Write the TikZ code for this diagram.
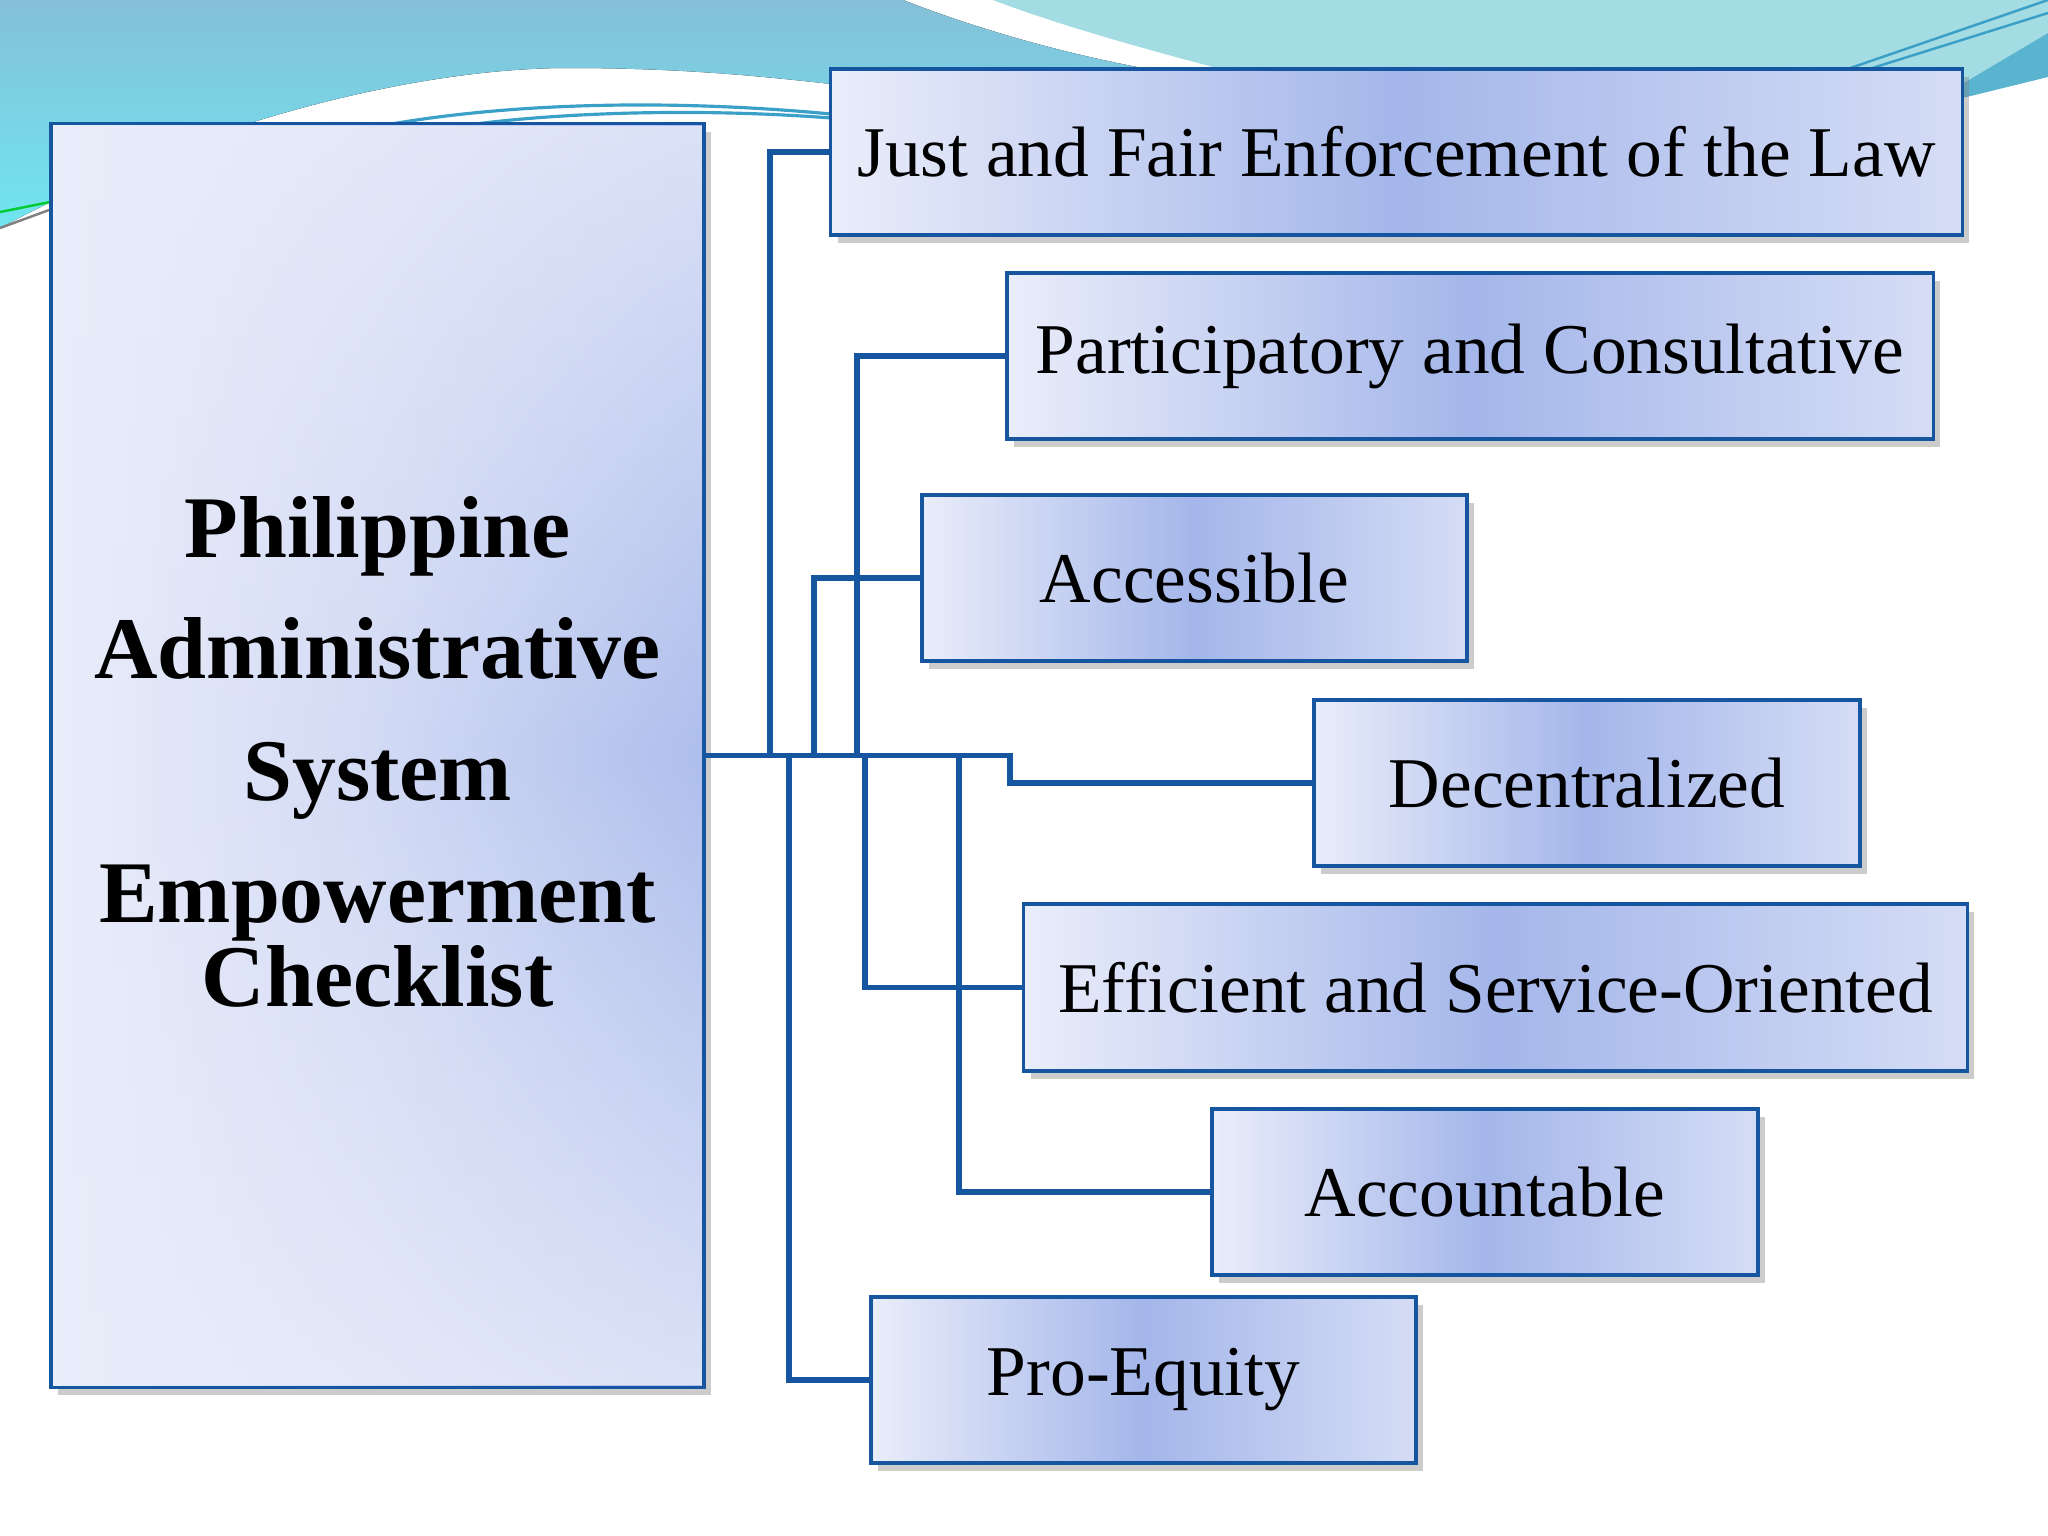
\documentclass[tikz,border=0pt]{standalone}
\usepackage{fontspec}
\setmainfont{Liberation Serif}
\usetikzlibrary{shadows,fadings}
\definecolor{linkblue}{RGB}{22,86,160}
\definecolor{boxlight}{RGB}{234,237,250}
\definecolor{boxdark}{RGB}{164,182,234}
\definecolor{tealtop}{RGB}{132,192,216}
\definecolor{tealcyan}{RGB}{112,230,240}
\definecolor{teallight}{RGB}{164,220,228}
\definecolor{tealband}{RGB}{90,180,208}
\definecolor{tealline}{RGB}{58,160,200}

\tikzfading[name=fade middle, top color=transparent!25, bottom color=transparent!25,
  middle color=transparent!100]

\tikzset{
  box/.style={draw=linkblue, line width=1pt, inner sep=0pt,
    left color=boxlight, right color=boxlight!70!boxdark, middle color=boxdark,
    font=\fontsize{20.3}{24}\selectfont,
    drop shadow={shadow xshift=0.07cm, shadow yshift=-0.08cm, opacity=0.4}},
  link/.style={linkblue, line width=1.5pt},
}

\begin{document}
\begin{tikzpicture}[x=0.01cm, y=-0.01cm]
  \useasboundingbox (0,0) rectangle (2048,1536);
  % background
  \fill[white] (0,0) rectangle (2048,1536);
  \fill[top color=tealtop, bottom color=tealcyan] (0,0) -- (903,0)
    .. controls (980,30) and (1060,52) .. (1137,67) -- (1137,85) -- (831,84)
    .. controls (760,76) and (680,68) .. (568,68)
    .. controls (420,68) and (200,120) .. (0,228) -- cycle;
  \fill[teallight] (993,0) -- (2048,0) -- (2048,33) -- (1930,103) -- (1230,103)
    -- (1213,67) .. controls (1130,45) and (1050,22) .. (993,0) -- cycle;
  \fill[tealband] (2048,33) -- (1930,103) -- (1930,106) -- (2048,77) -- cycle;
  \draw[tealline, line width=0.7pt] (1830,75) -- (2048,0);
  \draw[tealline, line width=0.7pt] (1850,75) -- (2048,13);
  \draw[tealline, line width=0.9pt] (380,126) .. controls (500,104) and (660,98) .. (831,114);
  \draw[tealline, line width=0.9pt] (460,126) .. controls (560,112) and (700,108) .. (831,118);
  \draw[green!60!teal, line width=0.7pt] (0,212) -- (60,200);
  \draw[gray, line width=0.7pt] (0,228) -- (60,206);

  % boxes
  \node[box, minimum width=6.53cm, minimum height=12.63cm,
    left color=boxlight, right color=boxdark!85!boxlight, middle color=boxlight!65!boxdark]
    (main) at (377.5,755.5) {};
  \fill[boxlight, path fading=fade middle] ([xshift=0.04cm,yshift=-0.04cm]main.north west)
    rectangle ([xshift=-0.04cm,yshift=0.04cm]main.south east);
  \node[font=\fontsize{25}{34.6}\selectfont\bfseries, align=center] (title) at (377.5,752)
    {Philippine\\Administrative\\System\\Empowerment\\[-10.5pt]Checklist};

  \node[box, minimum width=11.31cm, minimum height=1.66cm] (just) at (1396.5,152)
    {Just and Fair Enforcement of the Law};
  \node[box, minimum width=9.26cm, minimum height=1.66cm] (part) at (1470,356)
    {Participatory and Consultative};
  \node[box, minimum width=5.45cm, minimum height=1.66cm] (acc) at (1194.5,578)
    {Accessible};
  \node[box, minimum width=5.46cm, minimum height=1.66cm] (dec) at (1587,783)
    {Decentralized};
  \node[box, minimum width=9.43cm, minimum height=1.67cm] (eff) at (1495.5,987.5)
    {Efficient and Service-Oriented};
  \node[box, minimum width=5.46cm, minimum height=1.66cm] (accnt) at (1485,1192)
    {Accountable};
  \node[box, minimum width=5.45cm, minimum height=1.66cm] (pro) at (1143.5,1380)
    {Pro-Equity};

  % connectors
  \draw[link] (main.east) -- ++(64,0) |- (just.west);
  \draw[link] (main.east) -- ++(151,0) |- (part.west);
  \draw[link] (main.east) -- ++(108,0) |- (acc.west);
  \draw[link] (main.east) -- ++(304,0) |- (dec.west);
  \draw[link] (main.east) -- ++(159,0) |- (eff.west);
  \draw[link] (main.east) -- ++(253,0) |- (accnt.west);
  \draw[link] (main.east) -- ++(83,0) |- (pro.west);
\end{tikzpicture}
\end{document}
